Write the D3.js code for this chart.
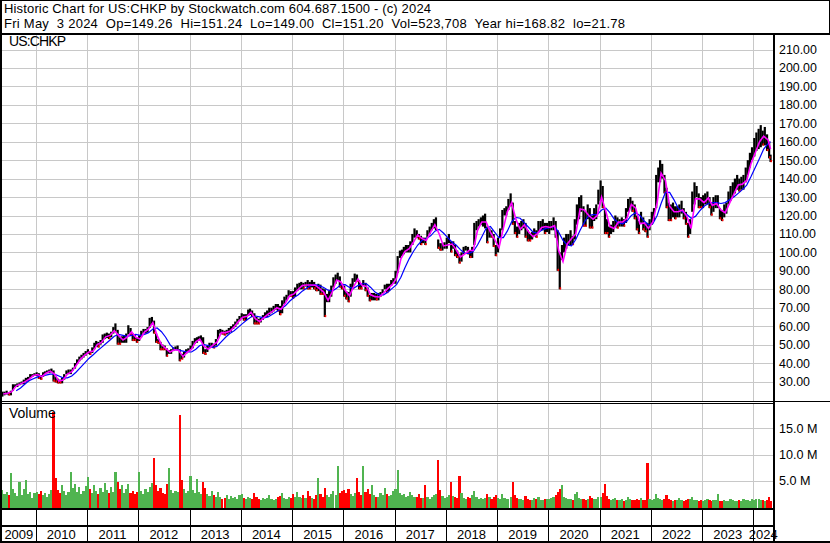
<!DOCTYPE html>
<html><head><meta charset="utf-8">
<script src="https://cdn.jsdelivr.net/npm/d3@7"></script>
<style>
html,body{margin:0;padding:0;background:#fff;}
svg{display:block;}
text{font-family:"Liberation Sans",Arial,sans-serif;white-space:pre;}
</style></head><body>
<svg id="c" width="830" height="543"></svg>
<script>
// ---------------- DATA ----------------
const titleLine1 = "Historic Chart for US:CHKP by Stockwatch.com 604.687.1500 - (c) 2024";
const titleLine2 = "Fri May  3 2024  Op=149.26  Hi=151.24  Lo=149.00  Cl=151.20  Vol=523,708  Year hi=168.82  lo=21.78";
const symbolLabel = "US:CHKP";
const volumeLabel = "Volume";
const startYear = 2009, startMonth = 4;           // first period: May 2009
const endDate = new Date(2024, 4, 3);
const yearLabels = [2009,2010,2011,2012,2013,2014,2015,2016,2017,2018,2019,2020,2021,2022,2023,2024];
const priceTicks = [30,40,50,60,70,80,90,100,110,120,130,140,150,160,170,180,190,200,210];
const volumeTicks = [5,10,15];

// half-month periods (1st half / 2nd half of each month), May 2009 .. May 2024
const priceHigh = [
 24.5,24.5,25,24,25,28.5,28.5,29,29.5,30,31,32,32.5,34,34,34.5,
 35,34.5,33.5,35,35.5,36,36.5,37,36,32.5,31.5,31,32,34,36,36.5,36.5,37.5,40,42,43.5,44.5,45.5,46.5,
 47.5,46.5,48.5,51,52,51.5,52.5,55.5,56,56.5,56,57,59.5,61.5,58,54,54.5,55,56,60.5,59,56,55.5,53.5,
 55,57.5,58.5,58.5,59.5,64.5,65,63,56,53,51.5,50,49.5,48,47,47.5,48.5,49,49.5,47.5,45,46,47.5,48,
 49.5,52,53.5,54,54.5,55,54,47.5,49.5,51,51,50.5,53,58,58.5,58,57.5,58,59,60,61,62.5,64,65.5,
 67,66.5,66.5,69,69.5,68.5,67,65,64,64.5,66,67.5,68.5,70,70,71,72,72,71,74,76,77,79.5,79,
 79,81,83,83.5,84,83.5,84,85,84,85,84,82,83,82.5,80.5,80,77.5,79,82,86.5,88,89,87,83,
 82,79,78.5,83,86,88.5,88,85,83,85,83.5,81,77,78,78,77.5,78,78.5,80,82.5,83,83,85,86,
 90,98,101,101.5,103,104,104,106,110,113,112,110,109,108,108,112,114,116,118,119,107,105,105,105.5,
 108,110,106,106,104,101,99,100,103,103.5,103,101,103,116,117,118,119,120,121,114,113,112,110,104,
 108,113,123,124,125,129,132,127,117,114,116,117,118,116,112,110,111,113,112,117,117,118,116,116,
 117,117,119,117,112,100,104,108,110,110,112,109,118,126,130,131,125,122,126,124,120,124,126,134,
 139,136,124,118,114,115,117,120,119,118,119,118,124,129,130,128,126,120,117,122,119,116,116,118,
 122,124,142,146,150,148,142,135,127,126,127,125,125,126,128,124,122,116,118,133,138,136,132,130,
 131,132,133,130,127,130,131,131,124,123,126,127,133,136,138,140,142,140,141,142,146,150,154,157,
 162,165,167,169,166,168,164,160,153
];
const priceLow = [
 21.8,22.5,23,22.5,22.5,25,27,27,28,28.5,28.5,29.5,30,32,32.5,33,
 33,31.5,31,32.5,34,34.5,34.5,35,30,29.5,29,29,29,31,34,34,34,36,37,39.5,41,42,43,44,
 45,44.5,45.5,47.5,49,48.5,50,51,53,53.5,53,54,56,57,50,50,51,51,51,55.5,55,52,52,51,
 52,54,56,56,56.5,59,61,56,51,50.5,47,47,47,43.5,45,45,46.5,47,47,41,42,43,45,46,
 47,48,50.5,51,52,52,45,44.5,46,48,48.5,48,49.5,53,56,55.5,55,55.5,56,57,58.5,59.5,61,63,
 64,63,63,65.5,66,65,61,61,61,62,63.5,64.5,65,66,67,68,69,68,66,67,72,74,76,76,
 75,76,79,80,80,80,81.5,80,80,81,80,79,79,77,77,65,73,73,76,81,83,85,81,80,
 76,74.5,73,76,80,84,84,80,80,82,79,76,73.5,74,74,74,74,76,78,80,78,79,82,83,
 83,89,97,98,99,100,100,100,104,108,108,107,104,105,104,108,110,112,113,112,102,101,101,102,
 102,105,100,102,98,97,94,95,99,101,99,97,97,104,112,114,115,114,113,105,108,108,103,98,
 100,108,112,120,120,123,125,115,110,108,110,112,113,108,106,106,107,109,108,111,112,112,110,111,
 110,112,112,108,90,80,96,100,102,104,104,104,107,115,118,122,114,114,118,113,113,117,118,126,
 128,124,110,110,108,110,111,114,113,114,114,114,116,122,124,122,118,112,110,116,112,111,108,112,
 115,117,124,138,138,140,132,124,117,117,119,118,119,119,121,118,115,108,110,122,126,130,124,124,
 124,126,126,124,120,122,124,124,118,117,119,121,126,128,130,132,134,133,134,134,138,142,146,150,
 152,155,156,157,158,158,155,151,149
];
// volume per half-month period, millions of shares
const volume = [
 3.2,2.5,2.8,2.2,6.5,3.4,2.6,2.1,4.8,2.3,3.5,5.2,2.4,2.9,1.8,2.6,
 2.9,2.4,3.1,2.2,2.7,2.0,2.5,3.3,18.2,5.5,3.2,2.6,4.1,3.0,2.3,2.8,6.7,3.6,4.4,2.9,3.8,2.5,3.1,4.0,
 5.8,3.5,2.7,4.2,3.1,2.4,3.6,2.8,4.5,3.2,2.6,3.9,2.9,6.6,4.8,3.4,4.1,2.7,3.5,4.3,2.6,3.0,2.4,2.8,
 6.6,3.1,2.5,3.4,2.8,3.9,4.6,9.3,4.2,3.0,3.6,2.7,2.4,4.4,7.4,3.3,2.6,3.1,2.8,17.6,5.1,3.4,2.7,3.0,
 6.0,3.2,2.6,5.3,2.9,2.5,4.8,3.7,2.4,2.1,3.0,2.2,1.9,2.8,2.0,1.6,1.8,2.3,1.5,2.1,1.7,1.9,1.6,2.2,
 2.4,1.8,1.6,2.0,1.7,1.5,2.6,1.9,1.6,1.4,1.8,1.5,1.7,2.2,1.6,1.3,1.5,1.9,2.1,2.7,1.8,1.6,1.9,1.7,
 2.5,1.9,2.8,2.0,1.8,2.2,1.7,3.0,2.1,1.8,1.6,2.3,5.5,2.4,2.0,3.6,2.2,1.9,2.4,3.1,2.2,7.8,2.6,3.0,
 3.2,2.7,3.5,2.4,2.1,2.6,5.5,2.8,2.3,7.8,2.9,3.4,2.5,4.2,2.2,2.0,1.9,2.6,2.3,3.6,2.4,2.1,2.2,3.0,
 3.4,7.0,2.6,2.2,2.4,1.9,2.1,2.8,2.3,1.9,2.0,2.5,1.8,1.7,4.2,2.0,1.6,1.9,2.2,2.5,9.0,3.2,2.1,1.8,
 2.0,2.3,4.8,2.1,1.9,1.7,5.9,2.6,1.8,1.6,1.9,1.7,2.3,3.0,1.9,1.6,1.8,1.5,1.7,2.5,2.0,1.6,1.9,2.2,
 1.8,1.6,2.4,1.7,1.5,1.6,1.9,4.8,2.2,1.7,1.5,1.6,1.4,2.1,1.6,1.3,1.4,1.7,1.5,1.9,1.4,1.3,1.5,1.6,
 1.5,1.7,1.9,2.3,2.8,3.4,4.2,2.0,1.8,1.5,1.6,1.4,2.4,2.9,1.7,1.5,1.6,1.4,1.5,2.1,1.7,1.5,1.6,2.0,
 1.9,2.6,4.4,2.1,1.6,1.4,1.5,1.8,1.4,1.3,1.5,1.2,1.4,2.0,1.5,1.3,1.4,1.6,1.3,1.8,1.4,1.3,8.4,1.6,
 1.4,1.6,2.4,1.8,1.5,1.4,1.6,2.2,1.5,1.3,1.2,1.4,1.3,1.7,1.4,1.2,1.3,1.6,1.5,2.0,1.4,1.3,1.2,1.4,
 1.2,1.4,1.6,1.3,1.2,1.4,1.3,2.5,1.2,1.1,1.3,1.2,1.1,1.5,1.3,1.1,1.2,1.4,1.2,1.6,1.3,1.4,1.2,1.5,
 1.4,1.6,1.5,1.3,1.4,1.2,1.3,1.9,1.1
];
// monthly samples of the two moving averages, May 2009 .. May 2024
const maFast = [
 23.2,23.6,24.5,27.5,28.7,29.8,31.3,33.2,
 33.8,32.6,34.5,35.6,34,30.2,30.8,34,35.3,38.5,42,44.2,
 46,46.5,50,51.2,54.2,55,57.5,55,52.5,54,57,54,
 53,56.8,58.5,62,55,50,48,46,47.2,47,43.5,45.8,
 47.5,51.5,53,49,47.5,49.6,51.3,56.5,56.5,57.2,59.6,62.5,
 64.8,65.3,67.5,64,62.5,64.6,66.5,68,70,69.2,72.5,76.5,
 77.5,80,82,82.3,82.3,82.2,80.5,78.5,74,78.5,85,84,
 79.5,76.5,81.5,85.5,82,81.5,77,76,75.8,78,80.5,82.5,
 86,96.5,100.5,102,105.5,109.5,107.5,106.5,111,115,110,103.5,
 104,104.5,101.5,97.5,99,101,101,112,116.5,116.5,111,107,
 102.5,113,122,127,118,112.5,115,111,108.5,110,113.5,114,
 113.5,114.5,101,95,104.5,107.5,110,123.5,123,120,118,120,
 130,122,114,113,116.5,116.5,118.5,126,124,115.5,116,113,
 116.5,127,143,139,125,122,122,123,119.5,113,129,129,
 127,129.5,125.5,126.5,123,121.5,126.5,131.5,136.5,137,139,148,
 154,160,163,161,156
];
const maSlow = [
 null,null,null,25,26.5,28.5,30.5,31.5,
 32.5,33,33.5,34,34,33,32,32,33,35,37.5,40,
 42.5,44.5,46.5,48.5,50.5,52.5,54.5,55.5,55,54.5,55,55.5,
 55,55.5,56.5,58.5,59,57,54,50,47.5,47,46.5,46,
 46,47.5,49.5,50,49.5,48.5,49,51.5,54,56,57.5,59.5,
 61.5,63.5,65,65.5,65,64.5,65,66.5,68,69.5,71,73.5,
 75.5,77,79,80.5,82,82.5,82,81,79.5,79,80.5,82.5,
 82.5,81,80.5,82,83,83,81,78.5,77,77,78.5,80.5,
 82.5,86.5,91.5,96.5,100.5,104,106.5,107.5,109,111.5,112.5,110.5,
 108,105.5,104,101.5,99.5,99.5,100.5,104,108.5,113,114,111,
 108,108,111.5,116.5,119,118.5,116,113.5,111,110.5,112,113,
 113.5,114,111,106.5,104,103.5,107,112,116.5,120,120.5,120.5,
 123,124,121.5,118,116,115.5,117,120,121.5,120,117,115,
 115.5,120,126.5,132.5,132.5,128.5,124,122,120.5,118.5,119.5,122.5,
 125,126.5,127,127,126.5,127,128.5,130,132,134,136.5,141,
 146,151,156,159,160
];

// ---------------- LAYOUT ----------------
const W = 830, H = 543;
const plotL = 2, plotR = 773;
const priceTop = 35, priceBot = 401;
const volTop = 404, volBot = 508.5;

const svg = d3.select("#c");
const x = d3.scaleTime()
  .domain([new Date(2010,0,1), new Date(2024,0,1)])
  .range([35.7, 753.3]);
const yP = d3.scaleLinear().domain([30,210]).range([381.5, 49.5]);
const yV = d3.scaleLinear().domain([0,15]).range([507, 428.3]);

const clamp = d => d > endDate ? endDate : d;
const periodDates = priceHigh.map((_, i) =>
  clamp(new Date(startYear, startMonth + Math.floor(i/2), i % 2 ? 23 : 8)));
const monthDates = maFast.map((_, j) => clamp(new Date(startYear, startMonth + j, 15)));

svg.append("rect").attr("width", W).attr("height", H).attr("fill", "#fff");

const defs = svg.append("defs");
defs.append("clipPath").attr("id","cp").append("rect")
  .attr("x", plotL).attr("y", priceTop).attr("width", plotR-plotL).attr("height", priceBot-priceTop);
defs.append("clipPath").attr("id","cv").append("rect")
  .attr("x", plotL).attr("y", volTop).attr("width", plotR-plotL).attr("height", volBot-volTop);

const grid = svg.append("g").attr("stroke", "#c8c8c8").attr("stroke-width", 1).attr("shape-rendering","crispEdges");
grid.selectAll(".hp").data(priceTicks).join("line")
  .attr("x1", plotL).attr("x2", plotR)
  .attr("y1", d => Math.round(yP(d))+0.5).attr("y2", d => Math.round(yP(d))+0.5);
grid.selectAll(".hv").data(volumeTicks).join("line")
  .attr("x1", plotL).attr("x2", plotR)
  .attr("y1", d => Math.round(yV(d))+0.5).attr("y2", d => Math.round(yV(d))+0.5);
const yearBounds = yearLabels.slice(1).map(y => new Date(y,0,1));
grid.selectAll(".vp").data(yearBounds).join("line")
  .attr("x1", d => Math.round(x(d))+0.5).attr("x2", d => Math.round(x(d))+0.5)
  .attr("y1", priceTop).attr("y2", priceBot);
grid.selectAll(".vv").data(yearBounds).join("line")
  .attr("x1", d => Math.round(x(d))+0.5).attr("x2", d => Math.round(x(d))+0.5)
  .attr("y1", volTop).attr("y2", volBot);

// ---- price bars ----
const pg = svg.append("g").attr("clip-path","url(#cp)");
const mid = i => (priceHigh[i] + priceLow[i]) / 2;
const isDown = i => i > 0 && mid(i) < mid(i-1);
pg.selectAll(".bar").data(priceHigh).join("rect")
  .attr("x", (d,i) => x(periodDates[i]) - 1.1)
  .attr("width", 2.2)
  .attr("y", (d,i) => yP(priceHigh[i]))
  .attr("height", (d,i) => Math.max(1, yP(priceLow[i]) - yP(priceHigh[i])))
  .attr("fill", "#000");
pg.selectAll(".dn").data(priceHigh.map((d,i)=>i).filter(isDown)).join("rect")
  .attr("x", i => x(periodDates[i]) - 0.2)
  .attr("width", 1.6)
  .attr("y", i => yP(priceLow[i]) - 2)
  .attr("height", 2.2)
  .attr("fill", "#ff0000");

const ma = (arr) => d3.line()
  .defined((d,i) => arr[i] != null)
  .x((d,i) => x(monthDates[i]))
  .y((d,i) => yP(arr[i]));
pg.append("path").datum(maSlow).attr("d", ma(maSlow))
  .attr("fill","none").attr("stroke","#0000ff").attr("stroke-width",1.2);
pg.append("path").datum(maFast).attr("d", ma(maFast))
  .attr("fill","none").attr("stroke","#ff00ff").attr("stroke-width",1.6);

// ---- volume bars ----
const vg = svg.append("g").attr("clip-path","url(#cv)").attr("shape-rendering","crispEdges");
vg.selectAll(".vb").data(volume).join("rect")
  .attr("x", (d,i) => x(periodDates[i]) - 1.1)
  .attr("width", 2.2)
  .attr("y", d => yV(d))
  .attr("height", d => volBot - yV(d))
  .attr("fill", (d,i) => isDown(i) ? "#ff0000" : "#50b450");

// ---- frame ----
const fr = svg.append("g").attr("fill", "#000").attr("shape-rendering","crispEdges");
fr.append("rect").attr("x",0).attr("y",0).attr("width",W).attr("height",1);
fr.append("rect").attr("x",0).attr("y",0).attr("width",2).attr("height",H);
fr.append("rect").attr("x",W-1).attr("y",0).attr("width",1).attr("height",34);
fr.append("rect").attr("x",0).attr("y",33).attr("width",W).attr("height",2);
fr.append("rect").attr("x",0).attr("y",401).attr("width",W).attr("height",1);
fr.append("rect").attr("x",0).attr("y",403).attr("width",plotR).attr("height",1);
fr.append("rect").attr("x",0).attr("y",508).attr("width",plotR).attr("height",2);
fr.append("rect").attr("x",0).attr("y",525).attr("width",plotR).attr("height",2);
fr.append("rect").attr("x",0).attr("y",541).attr("width",W).attr("height",2);
fr.append("rect").attr("x",plotR).attr("y",35).attr("width",2).attr("height",H-35);
fr.selectAll(".ys").data(yearBounds).join("rect")
  .attr("x", d => Math.round(x(d))).attr("y", 510).attr("width", 1).attr("height", 31);

// ---- texts ----
const tx = svg.append("g").attr("fill","#000");
tx.append("text").attr("x",4).attr("y",13.3).attr("font-size",13)
  .attr("textLength",427).attr("lengthAdjust","spacing").attr("xml:space","preserve").text(titleLine1);
tx.append("text").attr("x",4).attr("y",28.3).attr("font-size",13)
  .attr("textLength",621).attr("lengthAdjust","spacing").attr("xml:space","preserve").text(titleLine2);
tx.append("text").attr("x",9).attr("y",46).attr("font-size",14)
  .attr("textLength",57).attr("lengthAdjust","spacing").text(symbolLabel);
tx.append("text").attr("x",9).attr("y",417.5).attr("font-size",14).text(volumeLabel);
tx.selectAll(".pl").data(priceTicks).join("text")
  .attr("font-size",12.4)
  .attr("x", 779).attr("y", d => yP(d) + 4.5).text(d => d.toFixed(2));
tx.selectAll(".vl").data(volumeTicks).join("text")
  .attr("font-size",12.6)
  .attr("x", 779).attr("y", d => yV(d) + 4.5).text(d => d.toFixed(1) + " M");
tx.selectAll(".yl").data(yearLabels).join("text")
  .attr("font-size",13)
  .attr("text-anchor","middle")
  .attr("x", y => {
    const a = Math.max(plotL, x(new Date(y,0,1)));
    const b = Math.min(plotR, x(new Date(y+1,0,1)));
    return (a + b) / 2;
  })
  .attr("y", 539).text(y => y);
</script></body></html>
